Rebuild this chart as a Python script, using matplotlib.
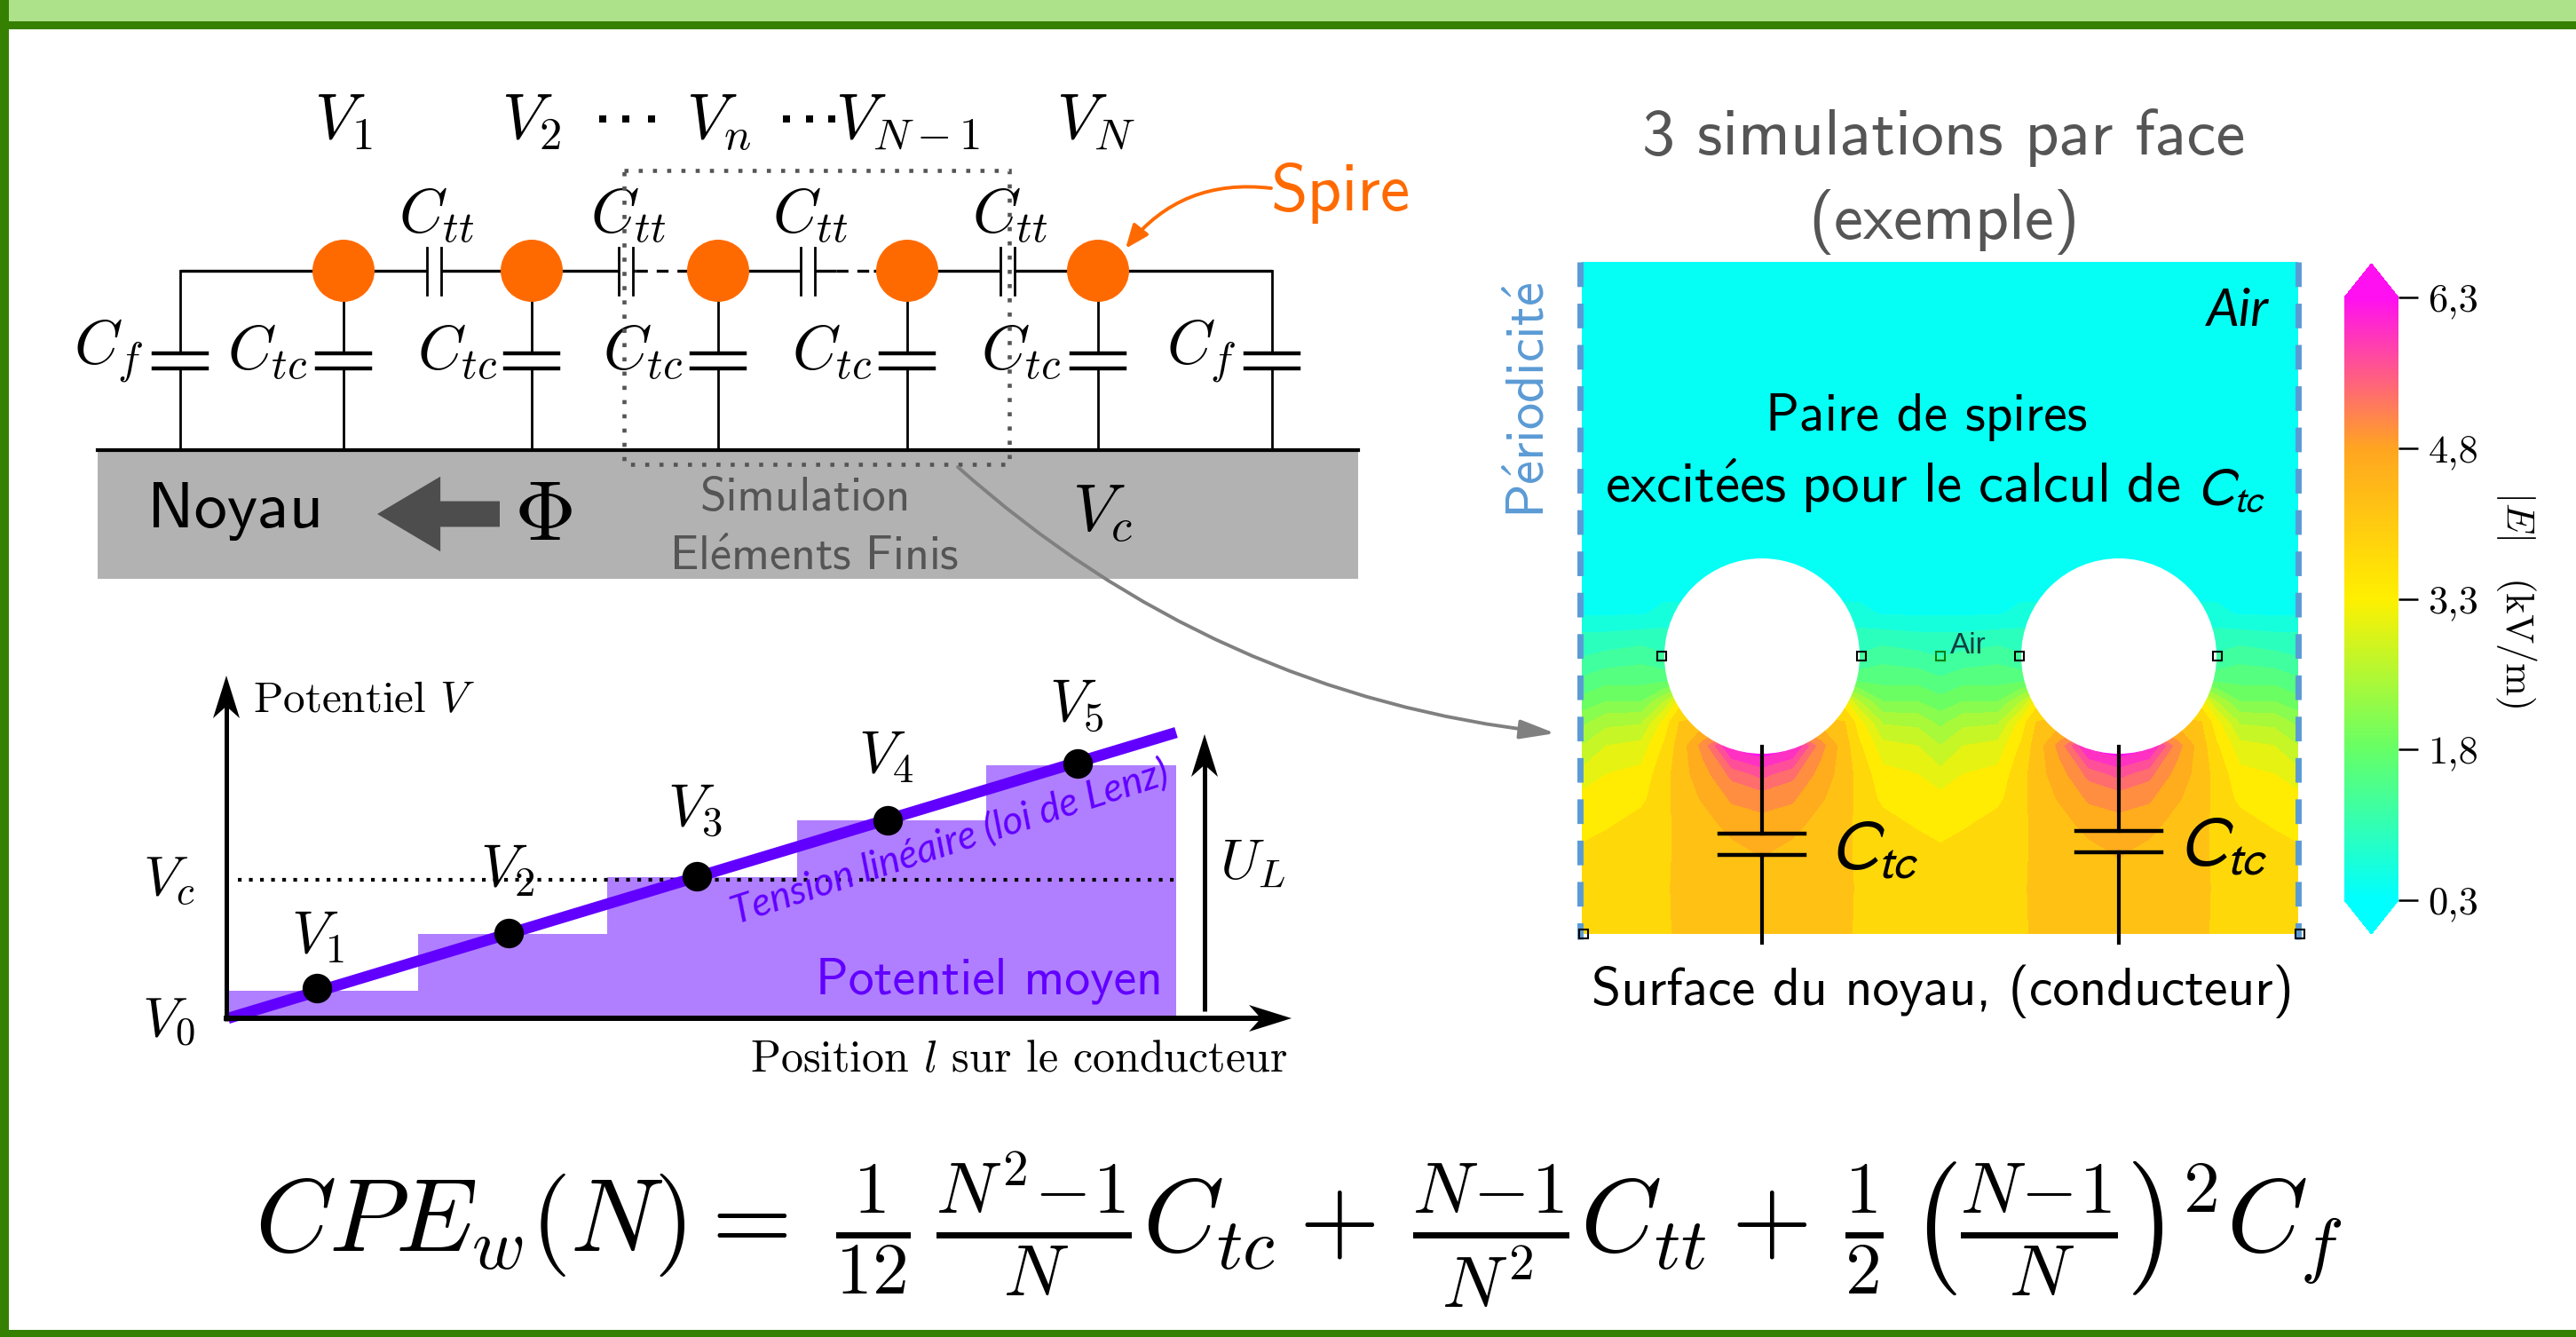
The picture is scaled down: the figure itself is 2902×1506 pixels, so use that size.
import numpy as np
import matplotlib
matplotlib.use("Agg")
import matplotlib.pyplot as plt
from matplotlib.patches import Rectangle, Circle, FancyArrowPatch, Polygon
from matplotlib.colors import LinearSegmentedColormap, Normalize
from matplotlib.cm import ScalarMappable

plt.rcParams["mathtext.fontset"] = "cm"
plt.rcParams["axes.unicode_minus"] = False

W, H = 2902, 1506

# staircase chart
step_edges = [0, 1, 2, 3, 4, 5]
mean_potential = [0.49, 1.48, 2.48, 3.49, 4.45]
turn_position = [0.47, 1.48, 2.47, 3.48, 4.48]
turn_potential = [0.53, 1.5, 2.5, 3.48, 4.48]
linear_l = [0, 5]
linear_v = [0, 5.03]
v_core = 2.44
turn_labels = ["$V_1$", "$V_2$", "$V_3$", "$V_4$", "$V_5$"]

# field magnitude (kV/m) read along columns, distance from the turn axis
field_offset = [0, 34, 66, 93, 110, 136, 175, 201]
field_depth = [0, 360, 395, 417, 445, 471, 495, 518, 545, 577, 605, 635, 665, 705, 757]
field_kv = [
    [0.3, 0.3, 0.3, 0.3, 0.3, 0.3, 0.3, 0.3],
    [0.3, 0.3, 0.3, 0.3, 0.3, 0.3, 0.3, 0.3],
    [0.6, 0.6, 0.6, 0.6, 0.6, 0.45, 0.45, 0.45],
    [0.8, 0.8, 0.8, 0.8, 0.85, 0.85, 0.8, 0.8],
    [1.2, 1.2, 1.2, 1.2, 1.15, 1.3, 1.2, 1.1],
    [2.0, 2.0, 2.0, 1.7, 1.6, 1.6, 1.6, 1.45],
    [3.0, 3.0, 3.0, 3.3, 2.6, 2.0, 2.0, 1.8],
    [4.5, 4.5, 4.3, 4.0, 3.3, 2.55, 2.5, 2.2],
    [6.4, 6.2, 5.0, 4.2, 3.6, 3.0, 2.9, 2.6],
    [5.6, 5.3, 4.7, 4.25, 3.8, 3.3, 3.2, 3.0],
    [5.0, 4.9, 4.5, 4.2, 3.85, 3.45, 3.35, 3.3],
    [4.7, 4.6, 4.25, 4.15, 3.85, 3.75, 3.5, 3.45],
    [4.5, 4.3, 4.2, 4.15, 3.85, 3.85, 3.8, 3.6],
    [4.25, 4.2, 4.2, 4.15, 3.9, 3.85, 3.85, 3.85],
    [4.2, 4.2, 4.2, 4.15, 3.85, 3.85, 3.85, 3.85],
]
contour_levels = [0.3, 0.5, 0.8, 1.1, 1.4, 1.7, 2.0, 2.3, 2.6, 2.9, 3.2, 3.55, 4.0,
                  4.45, 4.85, 5.2, 5.5, 5.8, 6.1, 6.5]

cbar_ticks = [0.3, 1.8, 3.3, 4.8, 6.3]
cbar_labels = ["0,3", "1,8", "3,3", "4,8", "6,3"]

# circuit labels
top_volts = ["$V_1$", "$V_2$", "$V_n$", "$V_{N-1}$", "$V_N$"]
shunt_labels = ["$C_f$", "$C_{tc}$", "$C_{tc}$", "$C_{tc}$", "$C_{tc}$", "$C_{tc}$", "$C_f$"]

ORANGE = "#ff6a00"
GREEN = "#358000"
PURPLE = "#6200ff"
BLUE = "#5b9bd5"
GREY_TXT = "#555555"

field_cmap = LinearSegmentedColormap.from_list(
    "field", ["#00ffff", "#66ff66", "#fff000", "#ffa520", "#ff10f0"])
field_cmap.set_under("#00ffff")
field_cmap.set_over("#ff10f0")
field_norm = Normalize(0.3, 6.3)


def px_axes(fig, x0, y0, x1, y1):
    return fig.add_axes([x0 / W, 1 - y1 / H, (x1 - x0) / W, (y1 - y0) / H])


def stealth(ax, x, y, ux, uy, length=48, half=15):
    # concave arrow head, tip at x, y pointing along ux, uy
    px, py = -uy, ux
    ax.add_patch(Polygon([(x, y),
                          (x - ux * length + px * half, y - uy * length + py * half),
                          (x - ux * length * 0.72, y - uy * length * 0.72),
                          (x - ux * length - px * half, y - uy * length - py * half)],
                         color="k", lw=0, zorder=6))


fig = plt.figure(figsize=(W / 100, H / 100), dpi=100, facecolor="white")

ax = fig.add_axes([0, 0, 1, 1], zorder=5)
ax.set_xlim(0, W)
ax.set_ylim(H, 0)
ax.axis("off")
ax.patch.set_alpha(0)

# frame
ax.add_patch(Rectangle((0, 0), W, 24, color="#ade18a", lw=0))
ax.add_patch(Rectangle((0, 24), W, 9, color=GREEN, lw=0))
ax.add_patch(Rectangle((0, 0), 10, H, color=GREEN, lw=0))
ax.add_patch(Rectangle((0, 1498), W, 8, color=GREEN, lw=0))

# ---- circuit
core_top = 507
wire_y = 305
ax.add_patch(Rectangle((110, core_top), 1420, 145, color="#b2b2b2", lw=0, zorder=1))
ax.plot([110, 1530], [core_top, core_top], color="k", lw=3, zorder=2)

shunt_x = [203, 387, 599, 809, 1022, 1237, 1433]
label_x = [122, 301, 515, 724, 937, 1150, 1353]
label_y = [396, 397, 397, 397, 397, 397, 396]
for i, x in enumerate(shunt_x):
    top = wire_y if i in (0, 6) else wire_y + 30
    ax.plot([x, x], [top, 398], color="k", lw=2)
    ax.plot([x, x], [415, core_top], color="k", lw=2)
    ax.plot([x - 30, x + 30], [398, 398], color="k", lw=3.2)
    ax.plot([x - 30, x + 30], [415, 415], color="k", lw=3.2)
    ax.text(label_x[i], label_y[i], shunt_labels[i], fontsize=50, ha="center", va="center")

for a, b in [(203, 481), (497, 697), (713, 716), (774, 902), (918, 942), (984, 1127), (1143, 1433)]:
    ax.plot([a, b], [wire_y, wire_y], color="k", lw=2.4, solid_capstyle="butt")
for a, b in [(716, 774), (942, 984)]:
    ax.plot([a, b], [wire_y, wire_y], color="k", lw=2.4, ls=(0, (4, 3)))

for x in [489, 705, 910, 1135]:
    ax.plot([x - 8, x - 8], [279, 332], color="k", lw=2)
    ax.plot([x + 8, x + 8], [279, 332], color="k", lw=2)
    ax.text(x + 3, 243, "$C_{tt}$", fontsize=50, ha="center", va="center")

for x in [387, 599, 809, 1022, 1237]:
    ax.add_patch(Circle((x, wire_y), 35, color=ORANGE, lw=0, zorder=3))

for x, s in zip([387, 598, 810, 1023, 1234], top_volts):
    ax.text(x, 137, s, fontsize=52, ha="center", va="center")
ax.plot([679, 705, 734, 886, 912, 937], [134] * 6, "s", color="k", ms=6.2, mew=0)

ax.add_patch(Rectangle((703, 192), 434, 331, fill=False, ec="#555555", lw=3.3,
                       ls=(0, (1, 2.5)), zorder=4))

ax.text(265, 576, "Noyau", family="cmss10", fontsize=53.5, ha="center", va="center")
ax.annotate("", xy=(425, 579), xytext=(563, 579),
            arrowprops=dict(arrowstyle="simple,head_length=1.6,head_width=1.9,tail_width=0.65",
                            color="#4d4d4d", lw=0, shrinkA=0, shrinkB=0, mutation_scale=32))
ax.text(612, 581, r"$\Phi$", fontsize=69, ha="center", va="center")
ax.text(907, 561, "Simulation", family="cmss10", fontsize=38.5, color=GREY_TXT, ha="center", va="center")
ax.text(917, 626, r"$\mathsf{El\acute{e}ments\ Finis}$", fontsize=39, color=GREY_TXT, ha="center", va="center")
ax.text(1242, 578, "$V_c$", fontsize=54, ha="center", va="center")

ax.text(1510, 217, "Spire", family="cmss10", fontsize=54, color=ORANGE, ha="center", va="center")
ax.add_patch(FancyArrowPatch((1432, 212), (1268, 280), connectionstyle="arc3,rad=0.28",
                             arrowstyle="-|>,head_length=16,head_width=6.5", color=ORANGE, lw=2.8,
                             shrinkA=0, shrinkB=0, zorder=4))
ax.add_patch(FancyArrowPatch((1079, 526), (1752, 826), connectionstyle="arc3,rad=0.16",
                             arrowstyle="-|>,head_length=24,head_width=6.5", color="#808080", lw=2.8,
                             shrinkA=0, shrinkB=0, zorder=4))

# ---- staircase chart
x0_px, unit_x = 257, 213.6
y0_px, unit_y = 1147, 64
a0, b0, a1, b1 = 250, 750, 1470, 1155
ax_pot = px_axes(fig, a0, b0, a1, b1)
ax_pot.set_xlim((a0 - x0_px) / unit_x, (a1 - x0_px) / unit_x)
ax_pot.set_ylim((y0_px - b1) / unit_y, (y0_px - b0) / unit_y)
ax_pot.axis("off")

ax_pot.bar(step_edges[:-1], mean_potential, width=1, align="edge", color="#b07fff", lw=0, zorder=1)
ax_pot.plot([0.05, 5], [v_core, v_core], color="k", lw=3, ls=(0, (1, 2)), zorder=2)
ax_pot.plot(linear_l, linear_v, color=PURPLE, lw=9, solid_capstyle="butt", zorder=3)
ax_pot.plot(turn_position, turn_potential, "o", color="k", ms=24, mew=0, zorder=4)

# axes of the chart
ax.plot([255, 255], [1150, 790], color="k", lw=3.6, solid_capstyle="butt")
stealth(ax, 255, 761, 0, -1)
ax.plot([252, 1425], [1147, 1147], color="k", lw=4.3, solid_capstyle="butt")
stealth(ax, 1455, 1147, 1, 0)
ax.plot([1357, 1357], [1139, 855], color="k", lw=3.6, solid_capstyle="butt")
stealth(ax, 1357, 827, 0, -1)

for x, y, s in zip([358, 572, 783, 998, 1213], [1055, 980, 913, 852, 795], turn_labels):
    ax.text(x, y, s, fontsize=48, ha="center", va="center")

ax.text(190, 992, "$V_c$", fontsize=46, ha="center", va="center")
ax.text(190, 1150, "$V_0$", fontsize=46, ha="center", va="center")
ax.text(1411, 972, "$U_L$", fontsize=46, ha="center", va="center")
ax.text(285, 790, "Potentiel $V$", family="cmr10", fontsize=35.4, ha="left", va="center")
ax.text(1450, 1194, "Position $l$ sur le conducteur", family="cmr10", fontsize=36, ha="right", va="center")
ax.text(1114, 1105, "Potentiel moyen", family="cmss10", fontsize=41.5, color=PURPLE, ha="center", va="center")
ax.text(1070, 950, "Tension linéaire (loi de Lenz)", family="Lato", style="italic", fontsize=32,
        color=PURPLE, rotation=18, rotation_mode="anchor", ha="center", va="center")

# ---- field map
ax_f = px_axes(fig, 1782, 295, 2589, 1052)
half = np.array(field_kv)
d = np.array(field_offset)
xs = np.concatenate([203 - d[::-1], 203 + d[1:], 605 - d[-2::-1], 605 + d[1:]])
xs = xs.astype(float)
xs[0], xs[-1] = 0, 807
zz = np.hstack([half[:, ::-1], half[:, 1:], half[:, -2::-1], half[:, 1:]])
ax_f.contourf(xs, field_depth, zz, levels=contour_levels,
              colors=[field_cmap(field_norm(0.5 * (a + b))) for a, b in zip(contour_levels[:-1], contour_levels[1:])])
ax_f.set_xlim(0, 807)
ax_f.set_ylim(757, 0)
ax_f.axis("off")
for cx in [203, 605]:
    ax_f.add_patch(Circle((cx, 444), 110, color="white", lw=0, zorder=3))

for x in [1780, 2589]:
    ax.plot([x, x], [295, 1058], color=BLUE, lw=5, ls=(0, (4, 2.7)))

sq = dict(marker="s", ms=7, mfc="none", ls="none", mew=1.5)
ax.plot([1872, 2097, 2275, 2498, 1784, 2591], [739, 739, 739, 739, 1052, 1052], mec="k", **sq)
ax.plot([2186], [739], mec="#108010", **sq)
ax.text(2217, 727, "Air", family="Liberation Sans", fontsize=24, color="#104040", ha="center", va="center")

for x, y_plate, xl, yl in [(1985, 939, 2112, 958), (2387, 936, 2505, 954)]:
    ax.plot([x, x], [841, y_plate], color="k", lw=3)
    ax.plot([x, x], [y_plate + 24, 1062], color="k", lw=3)
    ax.plot([x - 48, x + 48], [y_plate, y_plate], color="k", lw=3.2)
    ax.plot([x - 48, x + 48], [y_plate + 24, y_plate + 24], color="k", lw=3.2)
    ax.text(xl, yl, "$C_{tc}$", fontsize=57, ha="center", va="center", math_fontfamily="stixsans")

ax.text(2190, 155, "3 simulations par face", family="cmss10", fontsize=53.4, color=GREY_TXT, ha="center", va="center")
ax.text(2190, 250, "(exemple)", family="cmss10", fontsize=53.4, color=GREY_TXT, ha="center", va="center")
ax.text(2521, 350, "Air", family="Lato", style="italic", fontsize=42, ha="center", va="center")
ax.text(2170, 470, "Paire de spires", family="cmss10", fontsize=43, ha="center", va="center")
ax.text(2457, 547, r"$\mathsf{excit\acute{e}es\ pour\ le\ calcul\ de}$", fontsize=45.5, ha="right", va="center")
ax.text(2475, 552, "$C_{tc}$", fontsize=44, ha="left", va="center", math_fontfamily="stixsans")
ax.text(1723, 451, r"$\mathsf{P\acute{e}riodicit\acute{e}}$", fontsize=43.5, color=BLUE, rotation=90,
        ha="center", va="center")
ax.text(2188, 1117, "Surface du noyau, (conducteur)", family="cmss10", fontsize=43, ha="center", va="center")

# ---- colour bar
cax = px_axes(fig, 2641, 297, 2702, 1052)
cb = fig.colorbar(ScalarMappable(norm=field_norm, cmap=field_cmap), cax=cax, extend="both",
                  extendfrac=38 / 678, drawedges=False)
cb.outline.set_visible(False)
cb.set_ticks(cbar_ticks)
cb.set_ticklabels(cbar_labels)
cax.tick_params(axis="y", length=16, width=1.8, pad=8, labelsize=32)
for t in cax.get_yticklabels():
    t.set_family("cmr10")
ax.text(2834, 675, r"$|E|\quad\mathrm{(kV/m)}$", fontsize=32, rotation=270, ha="center", va="center")

# ---- formula
ax.text(1463, 1386,
        r"$CPE_w(N)=\;\frac{1}{12}\,\frac{N^2\!-\!1}{N}C_{tc}+\,\frac{N\!-\!1}{N^2}C_{tt}+\,\frac{1}{2}\,\left(\frac{N\!-\!1}{N}\right)^2C_f$",
        fontsize=84, ha="center", va="center")

fig.savefig("out.png", dpi=100)
